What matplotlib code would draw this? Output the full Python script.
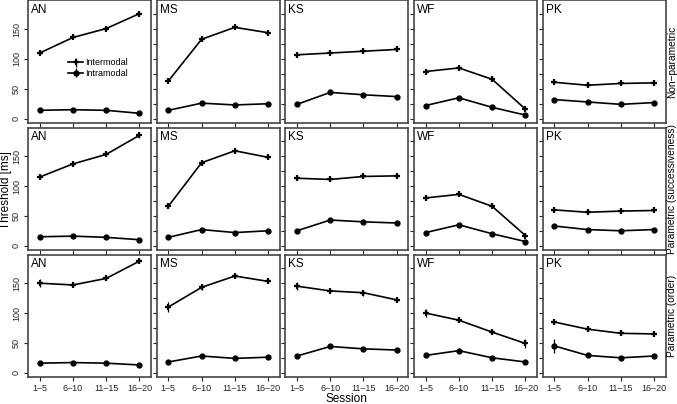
import numpy as np
import matplotlib.pyplot as plt

plt.rcParams['font.family'] = ['Liberation Sans', 'DejaVu Sans']

subjects = ['AN', 'MS', 'KS', 'WF', 'PK']
sessions = ['1–5', '6–10', '11–15', '16–20']
rows = ['Non−parametric', 'Parametric (successiveness)', 'Parametric (order)']

# thresholds [ms], one list per subject, rows = analysis method
inter = [
    [[110, 136, 151, 176], [63, 133, 153, 144], [107, 110, 113, 116],
     [79, 85, 66, 16], [61, 56, 59, 60]],
    [[115, 137, 153, 185], [66, 139, 159, 148], [113, 111, 116, 117],
     [80, 86, 66, 17], [60, 56, 58, 59]],
    [[150, 147, 158, 187], [110, 143, 162, 153], [145, 137, 134, 122],
     [100, 88, 68, 49], [85, 73, 66, 65]],
]
intra = [
    [[14, 15, 14, 9], [14, 26, 23, 25], [24, 44, 40, 37],
     [22, 35, 19, 6], [32, 28, 24, 27]],
    [[15, 16, 14, 10], [14, 27, 22, 25], [25, 43, 40, 38],
     [22, 35, 20, 7], [33, 27, 25, 27]],
    [[16, 17, 16, 13], [18, 28, 24, 26], [28, 44, 40, 38],
     [29, 37, 25, 18], [45, 29, 25, 28]],
]
# error bar half-lengths
inter_err = [
    [[1, 1, 1, 1]] * 5,
    [[3, 2, 2, 4], [2, 4, 2, 2], [3, 2, 3, 2], [2, 2, 2, 2], [1, 1, 1, 1]],
    [[7, 3, 3, 3], [9, 5, 3, 3], [7, 4, 5, 3], [6, 3, 3, 8], [3, 3, 2, 2]],
]
intra_err = [
    [[1, 1, 1, 1]] * 5,
    [[1, 1, 1, 1]] * 5,
    [[1, 1, 1, 1], [1, 1, 1, 1], [1, 1, 1, 1], [1, 1, 1, 1], [12, 2, 1, 1]],
]

fig, axes = plt.subplots(3, 5, figsize=(6.77, 4.04), dpi=100)
fig.subplots_adjust(left=0.0414, right=0.9833, bottom=0.0656, top=0.9988,
                    wspace=0.045, hspace=0.033)

x = np.arange(1, 5)
for r in range(3):
    for c in range(5):
        ax = axes[r, c]
        ax.errorbar(x, inter[r][c], yerr=inter_err[r][c], color='black', lw=1.2,
                    marker='+', ms=5, mew=1.6, capsize=0, elinewidth=0.9,
                    label='Intermodal')
        ax.errorbar(x, intra[r][c], yerr=intra_err[r][c], color='black', lw=1.2,
                    marker='o', ms=3.5, capsize=0, elinewidth=0.9,
                    label='Intramodal')
        ax.set_xlim(0.65, 4.35)
        ax.set_ylim(-8, 198)
        ax.set_xticks(x)
        if r == 2:
            ax.set_xticklabels(sessions, fontsize=6.5)
        else:
            ax.set_xticklabels([])
        if c == 0:
            ax.set_yticks([0, 50, 100, 150])
            ax.set_yticklabels(['0', '50', '100', '150'], fontsize=6.5,
                               rotation=90, va='center')
        else:
            ax.set_yticks(np.arange(0, 176, 25))
            ax.set_yticklabels([])
        ax.tick_params(direction='out', length=3, width=0.8, pad=2,
                       colors='#222222')
        for s in ax.spines.values():
            s.set_color('#444444')
            s.set_linewidth(1.2)
        ax.text(0.025, 0.975, subjects[c], transform=ax.transAxes, fontsize=8.5,
                ha='left', va='top')

# row titles on the right side
for r in range(3):
    pos = axes[r, 4].get_position()
    fig.text(672 / 677, (pos.y0 + pos.y1) / 2, rows[r], rotation=90,
             ha='center', va='center', fontsize=7.3)

axes[0, 0].legend(loc='center', bbox_to_anchor=(0.57, 0.45), frameon=False,
                  fontsize=6.5, handlelength=1.6, handletextpad=0.3,
                  labelspacing=0.2, borderpad=0)

fig.text(0.009, 0.53, 'Threshold [ms]', rotation=90, ha='center', va='center',
         fontsize=8.5)
fig.text(0.512, 0.012, 'Session', ha='center', va='center', fontsize=8.5)

fig.savefig('out.png', dpi=100)
